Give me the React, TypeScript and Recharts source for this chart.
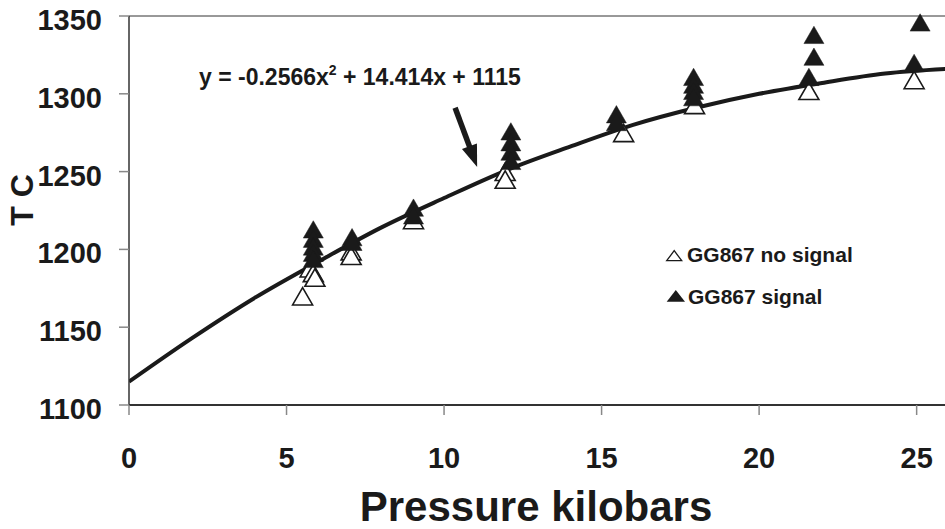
import {
  ComposedChart,
  Scatter,
  Line,
  XAxis,
  YAxis,
  ReferenceLine,
  Legend,
  Customized,
} from "recharts";

const xTicks = [0, 5, 10, 15, 20, 25];
const yTicks = [1100, 1150, 1200, 1250, 1300, 1350];

// GG867 runs with no signal (open triangles)
const noSignal = [
  { p: 5.51, t: 1168 },
  { p: 5.75, t: 1186 },
  { p: 5.85, t: 1183 },
  { p: 5.9, t: 1180 },
  { p: 7.05, t: 1197 },
  { p: 7.05, t: 1194 },
  { p: 9.03, t: 1217 },
  { p: 11.94, t: 1248 },
  { p: 11.94, t: 1243 },
  { p: 15.7, t: 1273 },
  { p: 17.95, t: 1291 },
  { p: 21.58, t: 1300 },
  { p: 24.92, t: 1307 },
];

// GG867 runs with signal (filled triangles)
const signal = [
  { p: 5.85, t: 1211 },
  { p: 5.85, t: 1205 },
  { p: 5.85, t: 1200 },
  { p: 5.85, t: 1196 },
  { p: 5.85, t: 1192 },
  { p: 7.08, t: 1206 },
  { p: 7.08, t: 1203 },
  { p: 9.03, t: 1225 },
  { p: 9.03, t: 1220 },
  { p: 12.12, t: 1274 },
  { p: 12.12, t: 1267 },
  { p: 12.12, t: 1261 },
  { p: 12.12, t: 1255 },
  { p: 15.47, t: 1285 },
  { p: 15.47, t: 1280 },
  { p: 17.92, t: 1309 },
  { p: 17.92, t: 1304 },
  { p: 17.92, t: 1300 },
  { p: 17.92, t: 1296 },
  { p: 21.74, t: 1336 },
  { p: 21.74, t: 1322 },
  { p: 21.58, t: 1309 },
  { p: 25.11, t: 1344 },
  { p: 24.92, t: 1318 },
];

// polynomial trend line
const trend = [
  { p: 0, t: 1115 },
  { p: 2, t: 1143 },
  { p: 4, t: 1169 },
  { p: 6, t: 1192 },
  { p: 8, t: 1214 },
  { p: 10, t: 1233 },
  { p: 12, t: 1251 },
  { p: 14, t: 1266 },
  { p: 16, t: 1280 },
  { p: 18, t: 1291 },
  { p: 20, t: 1300 },
  { p: 22, t: 1307 },
  { p: 24, t: 1313 },
  { p: 26, t: 1316 },
];

const arrow = [
  { p: 10.35, t: 1291 },
  { p: 11.05, t: 1253 },
];

const FONT = "'Liberation Sans', Arial, Helvetica, sans-serif";
const INK = "#1a1a1a";

function tri(cx: number, cy: number, side: number) {
  const h = (side * Math.sqrt(3)) / 2;
  return `${cx - side / 2},${cy + h / 3} ${cx + side / 2},${cy + h / 3} ${cx},${cy - (2 * h) / 3}`;
}

const OpenTri = (props: any) => (
  <polygon points={tri(props.cx, props.cy, 20)} fill="#fff" stroke={INK} strokeWidth={1.6} />
);
const FilledTri = (props: any) => (
  <polygon points={tri(props.cx, props.cy, 20)} fill={INK} stroke={INK} strokeWidth={0.5} />
);

const XTick = ({ x, y, payload }: any) => (
  <text x={x} y={y + 51} textAnchor="middle" fontFamily={FONT} fontWeight="bold" fontSize={29} fill={INK}>
    {payload.value}
  </text>
);

const YTick = ({ x, y, payload }: any) => (
  <text x={x} y={y + 14} textAnchor="end" fontFamily={FONT} fontWeight="bold" fontSize={29} fill={INK}>
    {payload.value}
  </text>
);

const ArrowShape = (props: any) => {
  const { x1, y1, x2, y2 } = props;
  const dx = x2 - x1;
  const dy = y2 - y1;
  const len = Math.sqrt(dx * dx + dy * dy);
  const ux = dx / len;
  const uy = dy / len;
  const hl = 22;
  const hw = 8;
  const bx = x2 - ux * hl;
  const by = y2 - uy * hl;
  return (
    <g>
      <line x1={x1} y1={y1} x2={bx + ux * 2} y2={by + uy * 2} stroke={INK} strokeWidth={5.5} />
      <polygon
        points={`${x2},${y2} ${bx - uy * hw},${by + ux * hw} ${bx + uy * hw},${by - ux * hw}`}
        fill={INK}
      />
    </g>
  );
};

const LegendBox = () => (
  <svg width={220} height={80} style={{ display: "block" }}>
    <polygon points="6.7,20.7 21.7,20.7 14.2,10.7" fill="none" stroke={INK} strokeWidth={1.3} />
    <text x={27} y={21.7} fontFamily={FONT} fontWeight="bold" fontSize={21} fill={INK}>
      GG867 no signal
    </text>
    <polygon points="6.7,61.7 25,61.7 15.8,50" fill={INK} />
    <text x={28} y={64} fontFamily={FONT} fontWeight="bold" fontSize={21} fill={INK}>
      GG867 signal
    </text>
  </svg>
);

const Labels = () => (
  <g fontFamily={FONT} fontWeight="bold" fill={INK}>
    <text x={33} y={200} textAnchor="middle" fontSize={32} transform="rotate(-90, 33, 200)">
      T C
    </text>
    <text x={536} y={521} textAnchor="middle" fontSize={42}>
      Pressure kilobars
    </text>
    <text x={199} y={85} fontSize={23}>
      y = -0.2566x
      <tspan dy={-10} fontSize={14}>2</tspan>
      <tspan dy={10}> + 14.414x + 1115</tspan>
    </text>
  </g>
);

export default function App() {
  return (
    <div style={{ position: "absolute", left: 0, top: 0, width: 945, height: 529, background: "#fff" }}>
      <ComposedChart width={945} height={529} margin={{ top: 16, right: 0, bottom: 0, left: 0 }}>
        <XAxis
          type="number"
          dataKey="p"
          domain={[0, 25.9]}
          allowDataOverflow
          ticks={xTicks}
          height={124}
          tickSize={10}
          tickMargin={2}
          tick={<XTick />}
          axisLine={{ stroke: "#333", strokeWidth: 2 }}
          tickLine={{ stroke: "#888", strokeWidth: 1.5 }}
        />
        <YAxis
          type="number"
          dataKey="t"
          domain={[1100, 1350]}
          ticks={yTicks}
          width={129}
          tickSize={10}
          tickMargin={17}
          tick={<YTick />}
          axisLine={{ stroke: "#333", strokeWidth: 1.5 }}
          tickLine={{ stroke: "#888", strokeWidth: 1.5 }}
        />
        <ReferenceLine y={1350} stroke="#333" strokeWidth={1} />
        <Scatter data={noSignal} shape={<OpenTri />} isAnimationActive={false} />
        <Scatter data={signal} shape={<FilledTri />} isAnimationActive={false} />
        <Line
          data={trend}
          dataKey="t"
          type="monotone"
          stroke={INK}
          strokeWidth={4}
          dot={false}
          activeDot={false}
          isAnimationActive={false}
        />
        <ReferenceLine
          segment={arrow.map((a) => ({ x: a.p, y: a.t }))}
          shape={<ArrowShape />}
        />
        <Legend
          layout="horizontal"
          verticalAlign="middle"
          align="center"
          content={<LegendBox />}
          wrapperStyle={{ position: "absolute", left: 660, top: 240, width: 220, height: 80 }}
        />
        <Customized component={<Labels />} />
      </ComposedChart>
    </div>
  );
}
